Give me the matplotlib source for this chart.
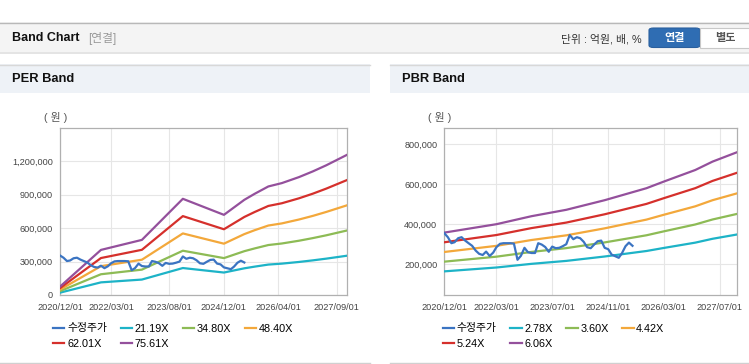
import matplotlib
matplotlib.use('Agg')
import matplotlib.pyplot as plt
import matplotlib.patches as patches
import matplotlib.ticker as mticker
import pandas as pd

plt.rcParams['font.family'] = ['Liberation Sans', 'Noto Sans CJK KR']

# ---- data (won) ----
price = [355, 335, 305, 310, 330, 335, 318, 305, 292, 268, 252, 246, 263, 241,
         258, 285, 302, 305, 305, 305, 303, 222, 242, 282, 260, 256, 256, 305,
         298, 286, 262, 288, 280, 282, 290, 300, 346, 325, 335, 330, 312, 285,
         280, 298, 315, 318, 282, 275, 248, 240, 232, 255, 290, 308, 292]
price = [p * 1000 for p in price]
price_dates = pd.date_range('2020-12-01', periods=len(price), freq='MS')

per_dates = pd.to_datetime(['2020-12-01', '2021-12-01', '2022-12-01', '2023-12-01',
                            '2024-12-01', '2025-06-01', '2025-09-01', '2026-01-01',
                            '2026-05-01', '2026-10-01', '2027-02-01', '2027-06-01',
                            '2027-12-01'])
per_2119 = [21000, 113500, 138700, 242200, 201800, 239700, 254800, 273300, 281700, 296800, 311100, 326500, 352600]
per_3480 = [34500, 186400, 227800, 397700, 331400, 393600, 418400, 448800, 462600, 487500, 511000, 536200, 579000]
per_4840 = [48000, 259000, 317000, 553000, 461000, 547000, 582000, 624000, 643000, 678000, 710500, 746000, 805000]
per_6201 = [61500, 332000, 406000, 708600, 590500, 701000, 745500, 800000, 824000, 868500, 910000, 955500, 1031700]
per_7561 = [75000, 405000, 495000, 864000, 720000, 855000, 909000, 975000, 1005000, 1059000, 1110000, 1165000, 1258000]
per_labels = ['21.19X', '34.80X', '48.40X', '62.01X', '75.61X']
per_ticks = ['2020/12/01', '2022/03/01', '2023/08/01', '2024/12/01', '2026/04/01', '2027/09/01']

pbr_dates = pd.to_datetime(['2020-12-01', '2022-03-01', '2023-01-01', '2023-11-01',
                            '2024-10-01', '2025-10-01', '2026-03-01', '2026-12-01',
                            '2027-05-01', '2027-12-01'])
pbr_278 = [164200, 183500, 201800, 216500, 238500, 266000, 281200, 307800, 327100, 348600]
pbr_360 = [212700, 237600, 261400, 280400, 308900, 344600, 364200, 398600, 423600, 451500]
pbr_442 = [261100, 291800, 320900, 344300, 379300, 423000, 447100, 489400, 520000, 554300]
pbr_524 = [309600, 345900, 380500, 408100, 449600, 501500, 530000, 580200, 616500, 657200]
pbr_606 = [358000, 400000, 440000, 472000, 520000, 580000, 613000, 671000, 713000, 760000]
pbr_labels = ['2.78X', '3.60X', '4.42X', '5.24X', '6.06X']
pbr_ticks = ['2020/12/01', '2022/03/01', '2023/07/01', '2024/11/01', '2026/03/01', '2027/07/01']

price_color = '#3b74c2'
band_colors = ['#1db3c7', '#8dbb55', '#f3a83b', '#d5302c', '#94509c']

W, H = 749, 364


def fx(x):
    return x / W


def fy(y):
    return 1 - y / H


def rect(fig, x0, y0, x1, y1, **kw):
    r = patches.Rectangle((fx(x0), fy(y1)), (x1 - x0) / W, (y1 - y0) / H,
                          transform=fig.transFigure, **kw)
    fig.add_artist(r)
    return r


fig = plt.figure(figsize=(W / 100, H / 100), dpi=100)
fig.patch.set_facecolor('white')

# ---- top header bar ----
rect(fig, 0, 52, W, 54, facecolor='#e4e4e4', edgecolor='none', zorder=-2)
rect(fig, 0, 22, W, 52, facecolor='#f4f4f4', edgecolor='none', zorder=-1)
fig.add_artist(plt.Line2D([0, 1], [fy(22.5), fy(22.5)], color='#b8b8b8', lw=1, transform=fig.transFigure))
fig.text(fx(12), fy(38), 'Band Chart', fontsize=9, fontweight='bold', color='#111', va='center')
fig.text(fx(88), fy(38.5), '[연결]', fontsize=8.5, color='#999999', va='center')
fig.text(fx(642), fy(39), '단위 : 억원, 배, %', fontsize=7.8, color='#333333', va='center', ha='right')

btn1 = patches.FancyBboxPatch((fx(649), fy(47.5)), (700 - 649) / W, 19.5 / H,
                              boxstyle='round,pad=0,rounding_size=0.006',
                              transform=fig.transFigure, facecolor='#2f6db3',
                              edgecolor='#2a5f9e', lw=0.8)
fig.add_artist(btn1)
rect(fig, 700, 28.2, 752, 47.5, facecolor='white', edgecolor='#c8c8c8', lw=0.8)
fig.text(fx(674.5), fy(38.5), '연결', fontsize=8, fontweight='bold', color='white', ha='center', va='center')
fig.text(fx(725), fy(38.5), '별도', fontsize=8, fontweight='bold', color='#555555', ha='center', va='center')

# ---- panels ----
for x0, x1, title in [(0, 370, 'PER Band'), (390, W, 'PBR Band')]:
    rect(fig, x0, 64, x1, 93, facecolor='#eef2f7', edgecolor='none', zorder=-1)
    fig.add_artist(plt.Line2D([fx(x0), fx(x1)], [fy(64.5), fy(64.5)], color='#d8d8d8', lw=1,
                              transform=fig.transFigure))
    fig.add_artist(plt.Line2D([fx(x0), fx(x1)], [fy(362.5), fy(362.5)], color='#d0d0d0', lw=1,
                              transform=fig.transFigure))
    fig.text(fx(x0 + 11.5), fy(79.5), title, fontsize=9.3, fontweight='bold', color='#111', va='center')


def draw_panel(ax, band_dates, bands, labels, ticks, ylim, yticks, legend_x):
    lines = []
    l, = ax.plot(price_dates, price, color=price_color, lw=1.6, label='수정주가', zorder=4)
    lines.append(l)
    for vals, c, lab in zip(bands, band_colors, labels):
        l, = ax.plot(band_dates, vals, color=c, lw=1.6, label=lab, zorder=3)
        lines.append(l)
    ax.set_xlim(pd.Timestamp('2020-12-01'), pd.Timestamp('2027-12-03'))
    ax.set_ylim(*ylim)
    tick_dates = pd.to_datetime([t.replace('/', '-') for t in ticks])
    ax.set_xticks(tick_dates)
    ax.set_xticklabels(ticks)
    ax.set_yticks(yticks)
    ax.yaxis.set_major_formatter(mticker.FuncFormatter(lambda v, p: f'{int(v):,}'))
    ax.grid(True, color='#e6e6e6', lw=0.8)
    ax.set_axisbelow(True)
    for s in ax.spines.values():
        s.set_color('#b0b0b0')
        s.set_linewidth(0.9)
    ax.tick_params(axis='x', length=0, pad=6, labelsize=6.6, colors='#444444')
    ax.tick_params(axis='y', length=0, pad=5, labelsize=6.6, colors='#444444')
    order = [0, 4, 1, 5, 2, 3]
    ax.legend([lines[i] for i in order], [lines[i].get_label() for i in order],
              ncol=4, frameon=False, loc='upper left',
              bbox_to_anchor=(fx(legend_x), fy(323.5)), bbox_transform=fig.transFigure,
              borderpad=0, borderaxespad=0, handlelength=1.05, handletextpad=0.25,
              columnspacing=1.25, labelspacing=0.5,
              prop={'family': ['Liberation Sans', 'Noto Sans CJK KR'], 'size': 7.8})
    return ax


ax1 = fig.add_axes([fx(60), fy(295), (347 - 60) / W, (295 - 128) / H])
draw_panel(ax1, per_dates, [per_2119, per_3480, per_4840, per_6201, per_7561], per_labels,
           per_ticks, (0, 1500000), [0, 300000, 600000, 900000, 1200000], 53)
fig.text(fx(56), fy(118), '( 원 )', fontsize=7.8, color='#555555', ha='center', va='center')

ax2 = fig.add_axes([fx(444.3), fy(295), (737.3 - 444.3) / W, (295 - 128) / H])
draw_panel(ax2, pbr_dates, [pbr_278, pbr_360, pbr_442, pbr_524, pbr_606], pbr_labels,
           pbr_ticks, (46000, 881000), [200000, 400000, 600000, 800000], 442.5)
fig.text(fx(439.5), fy(118), '( 원 )', fontsize=7.8, color='#555555', ha='center', va='center')

fig.savefig('out.png', dpi=100)
